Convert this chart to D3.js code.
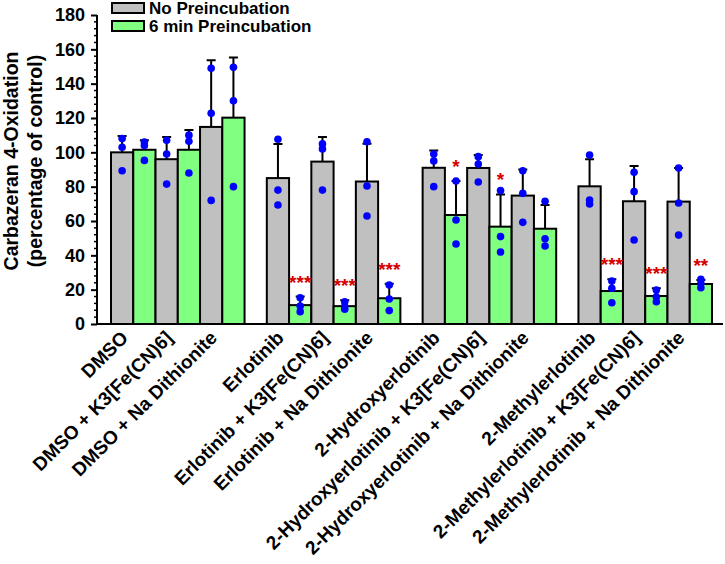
<!DOCTYPE html>
<html>
<head>
<script src="https://cdn.jsdelivr.net/npm/d3@7"></script>
<style>
  body { margin: 0; background: #fff; }
  text { font-family: "Liberation Sans", Arial, sans-serif; font-weight: bold; }
  .bar { stroke: black; stroke-width: 2px; }
  .err { stroke: black; stroke-width: 2px; }
</style>
</head>
<body>
<script>
var width = 725, height = 564;

var categories = ["DMSO", "DMSO + K3[Fe(CN)6]", "DMSO + Na Dithionite",
  "Erlotinib", "Erlotinib + K3[Fe(CN)6]", "Erlotinib + Na Dithionite",
  "2-Hydroxyerlotinib", "2-Hydroxyerlotinib + K3[Fe(CN)6]", "2-Hydroxyerlotinib + Na Dithionite",
  "2-Methylerlotinib", "2-Methylerlotinib + K3[Fe(CN)6]", "2-Methylerlotinib + Na Dithionite"];

var seriesNames = ["No Preincubation", "6 min Preincubation"];
var seriesColors = ["#c0c0c0", "#80ff80"];

var noPreMean = [100, 96, 114.8, 85, 94.6, 83, 91, 90.9, 74.8, 80.2, 71.5, 71.3];
var noPreSD   = [9.5, 13, 38.8, 19.9, 14.4, 22, 10, 7.5, 15.2, 15.7, 20.5, 19.6];
var preMean   = [101.5, 101.5, 120.2, 11, 10.4, 15, 63.5, 56.7, 55.5, 19.2, 16.3, 23.3];
var preSD     = [5.5, 11.5, 35.1, 5, 3.5, 8.5, 19.8, 18.8, 13.8, 6.8, 4.5, 2.3];

var noPreDots = [[108, 103, 89.3], [107, 99, 81.5], [122.7, 149, 72], [107.6, 78, 69.3],
  [104.9, 102, 78], [106.2, 80.4, 62.9], [99, 95, 80], [97.5, 93.2, 82.7],
  [89.3, 76.1, 59.2], [98.4, 72.2, 69.9], [88.4, 77.1, 48.9], [90.9, 70.5, 51.8]];
var preDots = [[106, 104, 95.3], [110, 106.4, 88], [149.5, 130, 80], [15.3, 10.5, 7.2],
  [13, 10.1, 8.6], [22.7, 14.6, 7.8], [83.3, 60.6, 46.6], [77.7, 50.9, 41.9],
  [71.5, 49.7, 45.4], [25, 20.8, 12.4], [19.8, 15.9, 13], [26, 23.7, 21.1]];

var preSig = ["", "", "", "***", "***", "***", "*", "*", "", "***", "***", "**"];

var yTicks = [0, 20, 40, 60, 80, 100, 120, 140, 160, 180];

// one slot per bar, plus an empty slot between each group of three categories
var slot = function(ci, si) { return Math.floor(ci / 3) * 7 + (ci % 3) * 2 + si; };

var x = d3.scaleLinear().domain([0, 27]).range([111, 712]);
var y = d3.scaleLinear().domain([0, 180]).range([324, 15]);
var bw = x(1) - x(0);

var bars = [];
categories.forEach(function(c, i) {
  bars.push({ c: i, s: 0, mean: noPreMean[i], sd: noPreSD[i], dots: noPreDots[i], sig: "" });
  bars.push({ c: i, s: 1, mean: preMean[i], sd: preSD[i], dots: preDots[i], sig: preSig[i] });
});

var svg = d3.select("body").append("svg")
  .attr("width", width)
  .attr("height", height);

svg.selectAll("rect.bar")
  .data(bars)
  .enter().append("rect")
  .attr("class", "bar")
  .attr("x", function(d) { return x(slot(d.c, d.s)); })
  .attr("y", function(d) { return y(d.mean); })
  .attr("width", bw)
  .attr("height", function(d) { return y(0) - y(d.mean); })
  .attr("fill", function(d) { return seriesColors[d.s]; });

var cx = function(d) { return x(slot(d.c, d.s)) + bw / 2; };

// upper error bars with caps
svg.selectAll("path.err")
  .data(bars)
  .enter().append("path")
  .attr("class", "err")
  .attr("fill", "none")
  .attr("d", function(d) {
    var top = y(d.mean + d.sd);
    return "M" + cx(d) + "," + y(d.mean) + "V" + top +
      "M" + (cx(d) - 4.5) + "," + top + "H" + (cx(d) + 4.5);
  });

// individual points
var dots = [];
bars.forEach(function(b) { b.dots.forEach(function(v) { dots.push({ x: cx(b), v: v }); }); });
svg.selectAll("circle")
  .data(dots)
  .enter().append("circle")
  .attr("cx", function(d) { return d.x; })
  .attr("cy", function(d) { return y(d.v); })
  .attr("r", 3.8)
  .attr("fill", "#0000ff");

// significance stars
svg.selectAll("text.sig")
  .data(bars.filter(function(d) { return d.sig; }))
  .enter().append("text")
  .attr("class", "sig")
  .attr("x", cx)
  .attr("y", function(d) { return y(d.mean + d.sd) - 8; })
  .attr("text-anchor", "middle")
  .attr("fill", "#d40000")
  .style("font-size", "19px")
  .text(function(d) { return d.sig; });

// y axis
var yAxis = d3.axisLeft(y).tickValues(yTicks).tickSize(6).tickPadding(6);
var ga = svg.append("g").attr("transform", "translate(97,0)").call(yAxis);
ga.select(".domain").attr("stroke-width", 2).attr("d", "M0," + y(180) + "V" + y(0));
ga.selectAll(".tick line").attr("stroke-width", 2);
ga.selectAll(".tick text").style("font-size", "18px").style("font-weight", "bold")
  .attr("font-family", "Liberation Sans, Arial, sans-serif");
ga.append("g").selectAll("line")
  .data(d3.range(0, 181, 4).filter(function(v) { return v % 20 !== 0; }))
  .enter().append("line")
  .attr("x1", -3).attr("x2", 0)
  .attr("y1", function(v) { return y(v); })
  .attr("y2", function(v) { return y(v); })
  .attr("stroke", "black").attr("stroke-width", 1.5);

// x axis line
svg.append("line")
  .attr("x1", 96).attr("x2", 723)
  .attr("y1", y(0)).attr("y2", y(0))
  .attr("stroke", "black").attr("stroke-width", 2);

// category labels
svg.selectAll("text.cat")
  .data(categories)
  .enter().append("text")
  .attr("class", "cat")
  .attr("text-anchor", "end")
  .attr("transform", function(d, i) {
    return "translate(" + (x(slot(i, 1)) - 4) + "," + (y(0) + 15) + ") rotate(-45)";
  })
  .style("font-size", "19px")
  .text(function(d) { return d; });

// y axis title
var title = svg.append("text")
  .attr("transform", "translate(17.5,161) rotate(-90)")
  .attr("text-anchor", "middle")
  .style("font-size", "19.5px");
title.append("tspan").attr("x", 0).attr("y", 0).text("Carbazeran 4-Oxidation");
title.append("tspan").attr("x", 0).attr("y", 24).text("(percentage of control)");

// legend
var lg = svg.selectAll("g.legend")
  .data(seriesNames)
  .enter().append("g")
  .attr("transform", function(d, i) { return "translate(112," + (3 + i * 18) + ")"; });
lg.append("rect")
  .attr("width", 32).attr("height", 10)
  .attr("fill", function(d, i) { return seriesColors[i]; })
  .attr("stroke", "black").attr("stroke-width", 2);
lg.append("text")
  .attr("x", 37).attr("y", 10.5)
  .style("font-size", "17px")
  .text(function(d) { return d; });
</script>
</body>
</html>
